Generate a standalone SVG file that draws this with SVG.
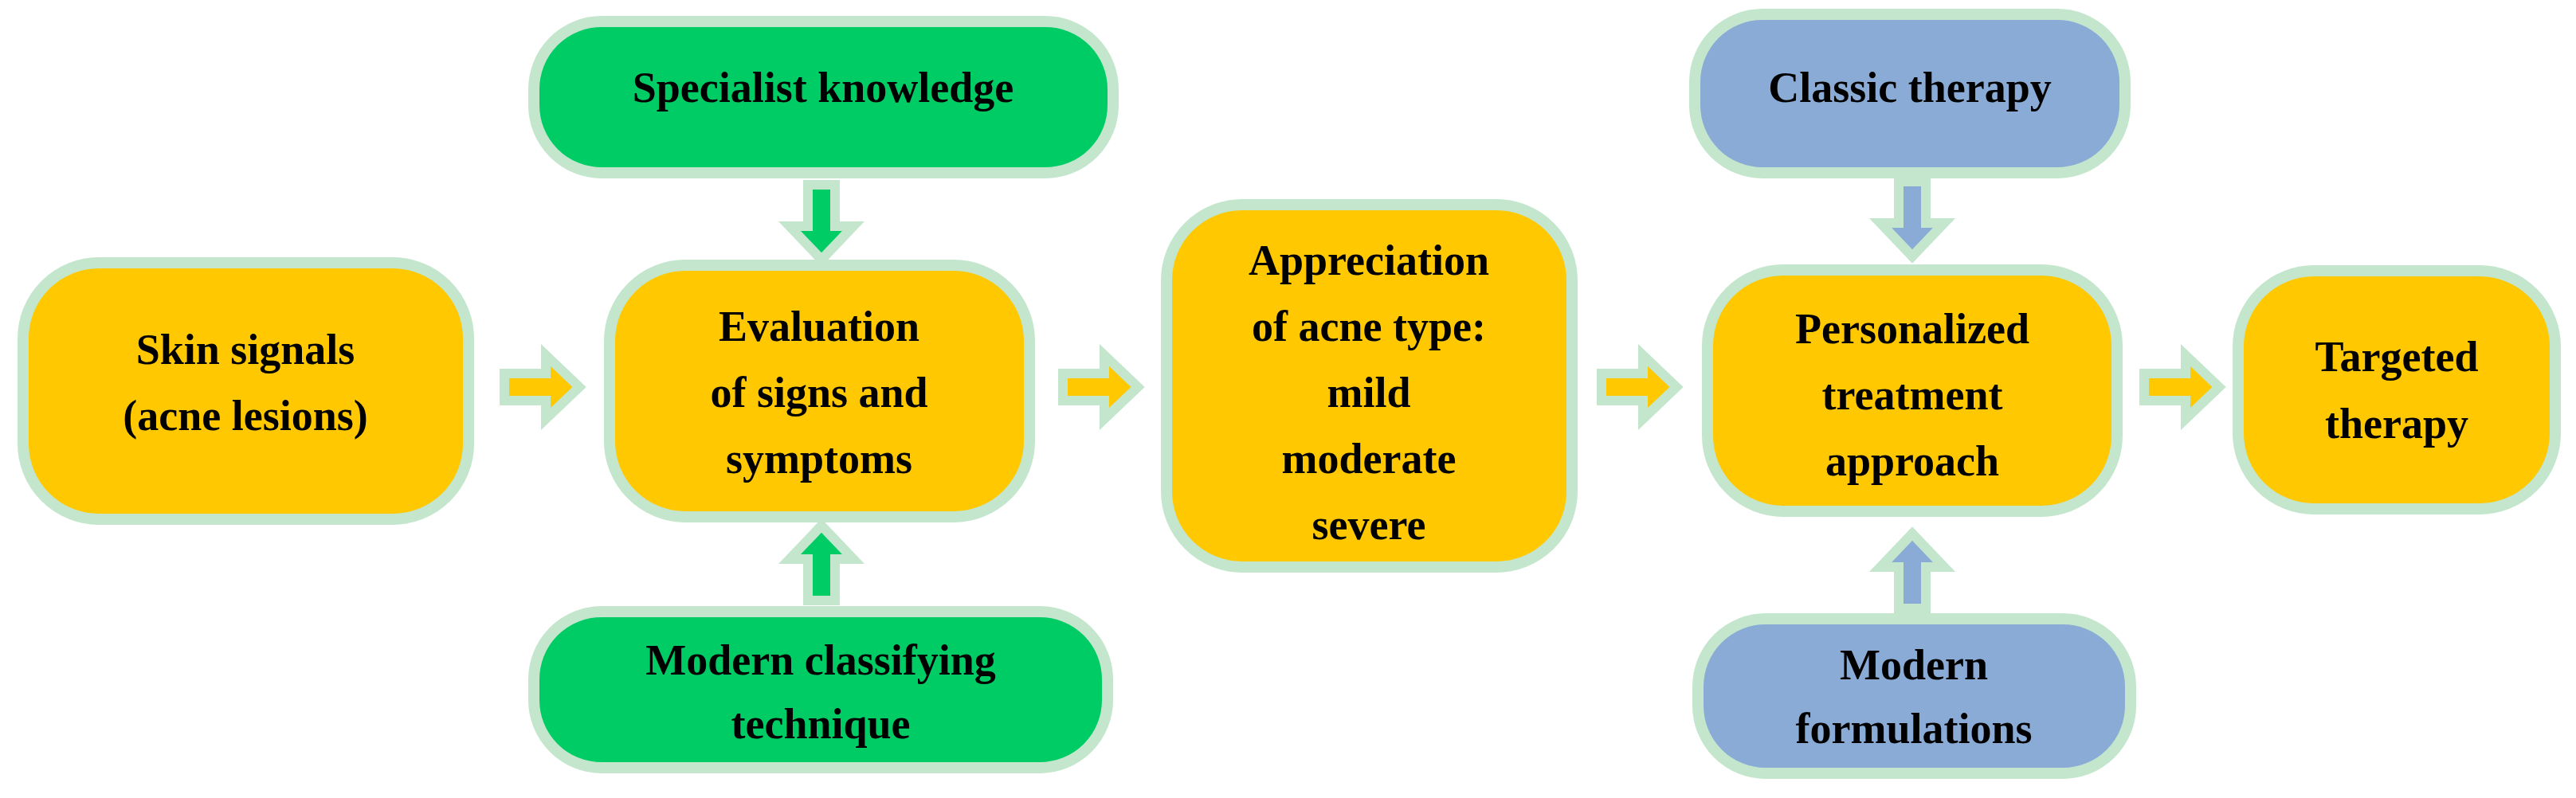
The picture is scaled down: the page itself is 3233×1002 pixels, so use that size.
<svg xmlns="http://www.w3.org/2000/svg" width="3233" height="1002" viewBox="0 0 3233 1002">
<defs>
<style>
.box{stroke:#c3e6cd;stroke-width:14}
.y{fill:#ffc800}.g{fill:#00cc66}.b{fill:#8aabd5}
.arr{stroke:#c3e6cd;stroke-width:12;stroke-linejoin:miter}
text{font-family:"Liberation Serif","DejaVu Serif",serif;font-weight:bold;font-size:54px;text-anchor:middle;fill:#000}
</style>
<path id="ar" d="M6,-17 H58 V-40 L100,0 L58,40 V17 H6 Z"/>
</defs>
<rect width="3233" height="1002" fill="#fff"/>
<g id="skin"><rect class="box y" x="29" y="330" width="559" height="322" rx="95"/><text x="308" y="457">Skin signals</text><text x="308" y="540">(acne lesions)</text></g>
<g id="eval"><rect class="box y" x="765" y="333" width="527" height="316" rx="95"/><text x="1028" y="428">Evaluation</text><text x="1028" y="511">of signs and</text><text x="1028" y="594">symptoms</text></g>
<g id="spec"><rect class="box g" x="670" y="27" width="727" height="190" rx="85"/><text x="1033" y="128">Specialist knowledge</text></g>
<g id="modclass"><rect class="box g" x="670" y="768" width="720" height="196" rx="85"/><text x="1030" y="847">Modern classifying</text><text x="1030" y="927">technique</text></g>
<g id="appr"><rect class="box y" x="1464" y="257" width="509" height="455" rx="95"/><text x="1718" y="345">Appreciation</text><text x="1718" y="428">of acne type:</text><text x="1718" y="511">mild</text><text x="1718" y="594">moderate</text><text x="1718" y="677">severe</text></g>
<g id="pers"><rect class="box y" x="2143" y="339" width="514" height="303" rx="95"/><text x="2400" y="431">Personalized</text><text x="2400" y="514">treatment</text><text x="2400" y="597">approach</text></g>
<g id="classic"><rect class="box b" x="2127" y="18" width="540" height="199" rx="85"/><text x="2397" y="128">Classic therapy</text></g>
<g id="modform"><rect class="box b" x="2131" y="777" width="543" height="194" rx="85"/><text x="2402" y="853">Modern</text><text x="2402" y="933">formulations</text></g>
<g id="targ"><rect class="box y" x="2809" y="340" width="398" height="299" rx="95"/><text x="3008" y="466">Targeted</text><text x="3008" y="550">therapy</text></g>
<g id="connectors">
<use href="#ar" class="arr y" transform="translate(627,486)"/>
<use href="#ar" class="arr y" transform="translate(1328,486)"/>
<use href="#ar" class="arr y" transform="translate(2004,486)"/>
<use href="#ar" class="arr y" transform="translate(2685,486)"/>
<use href="#ar" class="arr g" transform="translate(1031,226) rotate(90)"/>
<use href="#ar" class="arr g" transform="translate(1031,760) rotate(-90)"/>
<use href="#ar" class="arr b" transform="translate(2400,222) rotate(90)"/>
<use href="#ar" class="arr b" transform="translate(2400,770) rotate(-90)"/>
</g>
</svg>
